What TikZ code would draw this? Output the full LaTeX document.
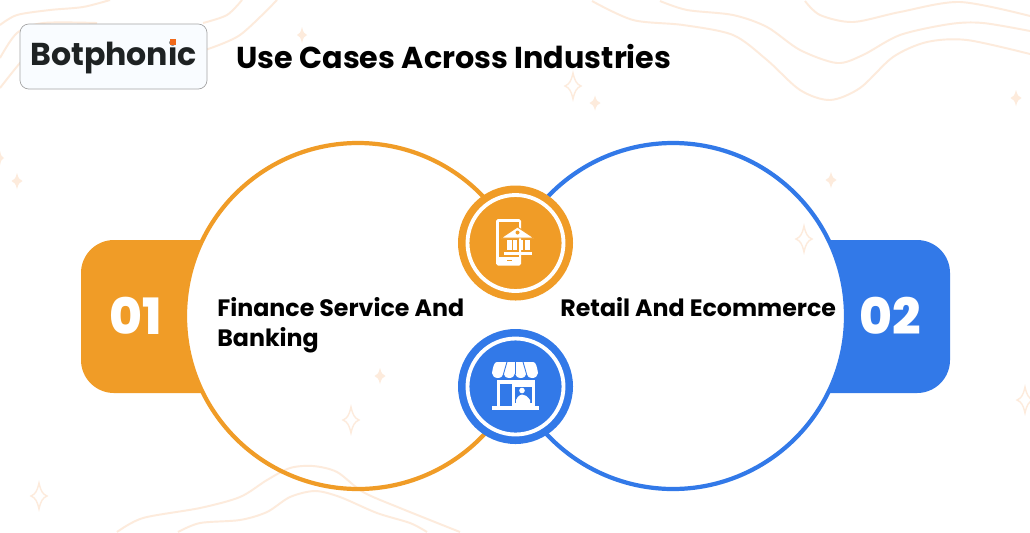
\documentclass[tikz,border=0pt]{standalone}
\usepackage{fontspec}
\setmainfont{Poppins}
\newfontfamily\numfont{Poppins ExtraBold}
\usepackage{tikz}

\definecolor{finorange}{HTML}{F09C27}
\definecolor{retailblue}{HTML}{3279E8}
\definecolor{wavetint}{HTML}{FDEBDC}
\definecolor{logoink}{HTML}{1E2223}
\definecolor{logodot}{HTML}{F26A1B}
\definecolor{logopaper}{HTML}{F9FCFF}

\tikzset{
    wave/.style={wavetint, line width=1.1pt},
    sparkfill/.style={fill=wavetint},
    sparkline/.style={draw=wavetint, line width=0.8pt},
    heading/.style={font=\bfseries\fontsize{17.2}{20}\selectfont, anchor=west, inner sep=0pt},
    label/.style={font=\bfseries\fontsize{13.5}{17}\selectfont, anchor=west, inner sep=0pt, align=left},
    tabnum/.style={font=\numfont\fontsize{28.5}{30}\selectfont, text=white, inner sep=0pt}
}
% four pointed sparkle: centre, half width, half height
\newcommand{\sparkle}[5]{
    \path[#1] (#2, #3-#5) .. controls ({#2+0.25*#4}, {#3-0.3*#5}) and ({#2+0.5*#4}, {#3-0.15*#5}) .. (#2+#4, #3)
        .. controls ({#2+0.5*#4}, {#3+0.15*#5}) and ({#2+0.25*#4}, {#3+0.3*#5}) .. (#2, #3+#5)
        .. controls ({#2-0.25*#4}, {#3+0.3*#5}) and ({#2-0.5*#4}, {#3+0.15*#5}) .. (#2-#4, #3)
        .. controls ({#2-0.5*#4}, {#3-0.15*#5}) and ({#2-0.25*#4}, {#3-0.3*#5}) .. cycle;
}

\begin{document}
\begin{tikzpicture}[x=0.02cm, y=-0.02cm]
        \useasboundingbox (0, 0) rectangle (1030, 532);
        \fill[white] (0, 0) rectangle (1030, 532);

        % Number tabs, then the discs that cut them
        \fill[finorange] (250, 240) -- (114, 240) arc[start angle=90, end angle=180, x radius=33, y radius=-33] -- (81, 360) arc[start angle=180, end angle=270, x radius=33, y radius=-33] -- (250, 393) -- cycle;
        \fill[retailblue] (800, 240) -- (917, 240) arc[start angle=90, end angle=0, x radius=33, y radius=-33] -- (950, 360) arc[start angle=0, end angle=-90, x radius=33, y radius=-33] -- (800, 393) -- cycle;
        \fill[white] (358, 316) circle (173);
        \fill[white] (673, 316) circle (173);

        % Background waves
        \draw[wave] plot[smooth] coordinates {(592,1) (633,20) (683,25) (733,35) (767,60) (800,90) (830,100) (860,88) (893,57) (927,42) (967,40) (1030,54)};
        \draw[wave] plot[smooth] coordinates {(660,1) (687,10) (733,15) (767,27) (800,50) (837,63) (863,55) (900,35) (950,24) (983,23) (1030,31)};
        \draw[wave] plot[smooth] coordinates {(805,1) (820,15) (853,22) (900,12) (960,2) (1030,16)};
        \draw[wave] plot[smooth] coordinates {(0,25) (17,15) (50,10) (83,7) (110,0)};
        \draw[wave] plot[smooth] coordinates {(0,58) (17,33) (43,23) (97,23)};
        \draw[wave] plot[smooth] coordinates {(0,88) (20,63) (30,55)};
        \draw[wave] plot[smooth] coordinates {(203,23) (227,15) (242,0)};
        \draw[wave] plot[smooth] coordinates {(205,50) (240,35) (277,0)};
        \draw[wave] plot[smooth] coordinates {(117,532) (143,518) (200,508) (240,497) (267,480) (290,468) (313,466) (337,472) (363,492) (400,508) (460,532)};
        \draw[wave] plot[smooth] coordinates {(178,532) (200,523) (240,520) (267,512) (290,497) (315,491) (340,497) (377,513) (410,523) (427,532)};

        % Sparkles
        \sparkle{sparkfill}{302}{35}{5}{8}
        \sparkle{sparkfill}{595}{103}{5.5}{7.5}
        \sparkle{sparkfill}{1016}{98}{5.5}{8}
        \sparkle{sparkfill}{17}{181}{5.5}{8}
        \sparkle{sparkfill}{0}{158}{4}{7}
        \sparkle{sparkfill}{380}{376}{5.5}{8}
        \sparkle{sparkfill}{831}{180}{5.5}{8}
        \sparkle{sparkline}{573}{86}{8}{13}
        \sparkle{sparkline}{351}{420}{8}{13}
        \sparkle{sparkline}{39}{496}{8}{13}
        \sparkle{sparkline}{804}{239}{8}{13}
        \sparkle{sparkline}{1025}{400}{8}{13}

        % Big rings, open between the two badges
        \draw[finorange, line width=2.4pt] (358, 316) ++(-40:173) arc[start angle=-40, end angle=-320, radius=173];
        \draw[retailblue, line width=2.4pt] (673, 316) ++(220:173) arc[start angle=220, end angle=500, radius=173];

        % Logo
        \node[draw=black!35, fill=logopaper, rounded corners=5pt, line width=0.4pt, minimum width=187*0.02cm, minimum height=65*0.02cm, inner sep=0pt] (logobox) at (113.5, 56.5) {};
        \node[text=logoink, font=\bfseries\fontsize{18}{20}\selectfont, inner sep=0pt] (logotext) at (113.5, 57) {Botphonic};
        \fill[logodot] (169.8, 38.5) rectangle (175.8, 45);

        % Texts
        \node[heading] (title) at (236, 57) {Use Cases Across Industries};
        \node[label] (financetext) at (217, 325) {Finance Service And\\Banking};
        \node[label] (retailtext) at (560, 307) {Retail And Ecommerce};
        \node[tabnum] (numone) at (136, 316) {01};
        \node[tabnum] (numtwo) at (890, 316) {02};

        % Badges
        \node[circle, fill=finorange, minimum size=115*0.02cm, inner sep=0pt] (bankbadge) at (515.5, 243) {};
        \node[circle, draw=white, line width=2.2pt, minimum size=96*0.02cm, inner sep=0pt] (bankring) at (bankbadge) {};
        \node[circle, fill=retailblue, minimum size=115*0.02cm, inner sep=0pt] (shopbadge) at (515.5, 386.5) {};
        \node[circle, draw=white, line width=2.2pt, minimum size=96*0.02cm, inner sep=0pt] (shopring) at (shopbadge) {};

        % Bank and phone icon
        \fill[white, rounded corners=1pt] (496, 219) rectangle (521, 265.5);
        \fill[finorange] (498.5, 222) rectangle (518.5, 256.5);
        \fill[finorange] (507, 260) rectangle (512, 261.2);
        \fill[white, draw=finorange, line width=0.5pt] (517.5, 227) -- (534, 238) -- (501, 238) -- cycle;
        \fill[white] (506.5, 240) rectangle (529.5, 250);
        \foreach \xcol in {511.5, 517, 523} {
            \fill[finorange] (\xcol, 240) rectangle ({\xcol+1.5}, 250);
        }
        \fill[white] (504, 252) rectangle (531.5, 255);
        \fill[finorange] (517.5, 232.5) circle (2);

        % Shop icon
        \fill[white] (492, 373) .. controls (493, 367) and (494, 362) .. (497, 362) -- (533, 362) .. controls (536, 362) and (537, 367) .. (538, 373)
            arc[start angle=0, end angle=180, x radius=5.75, y radius=5] arc[start angle=0, end angle=180, x radius=5.75, y radius=5]
            arc[start angle=0, end angle=180, x radius=5.75, y radius=5] arc[start angle=0, end angle=180, x radius=5.75, y radius=5] -- cycle;
        \foreach \xcut in {503.5, 515, 526.5} {
            \draw[retailblue, line width=0.5pt] ({515+(\xcut-515)*0.7}, 362) -- (\xcut, 374);
        }
        \fill[white] (497, 380) rectangle (535, 406);
        \fill[retailblue] (500, 384) rectangle (512, 406);
        \fill[retailblue] (515, 387) rectangle (532, 403);
        \fill[white] (522, 390.5) circle (2.8);
        \fill[white] (516, 403) -- (516, 400) .. controls (518, 396) and (520, 394.5) .. (522, 394.5) .. controls (525, 394.5) and (527, 396) .. (530, 400) -- (530, 403) -- cycle;
        \fill[white] (492, 406) rectangle (538.5, 409.5);
    \end{tikzpicture}
\end{document}
